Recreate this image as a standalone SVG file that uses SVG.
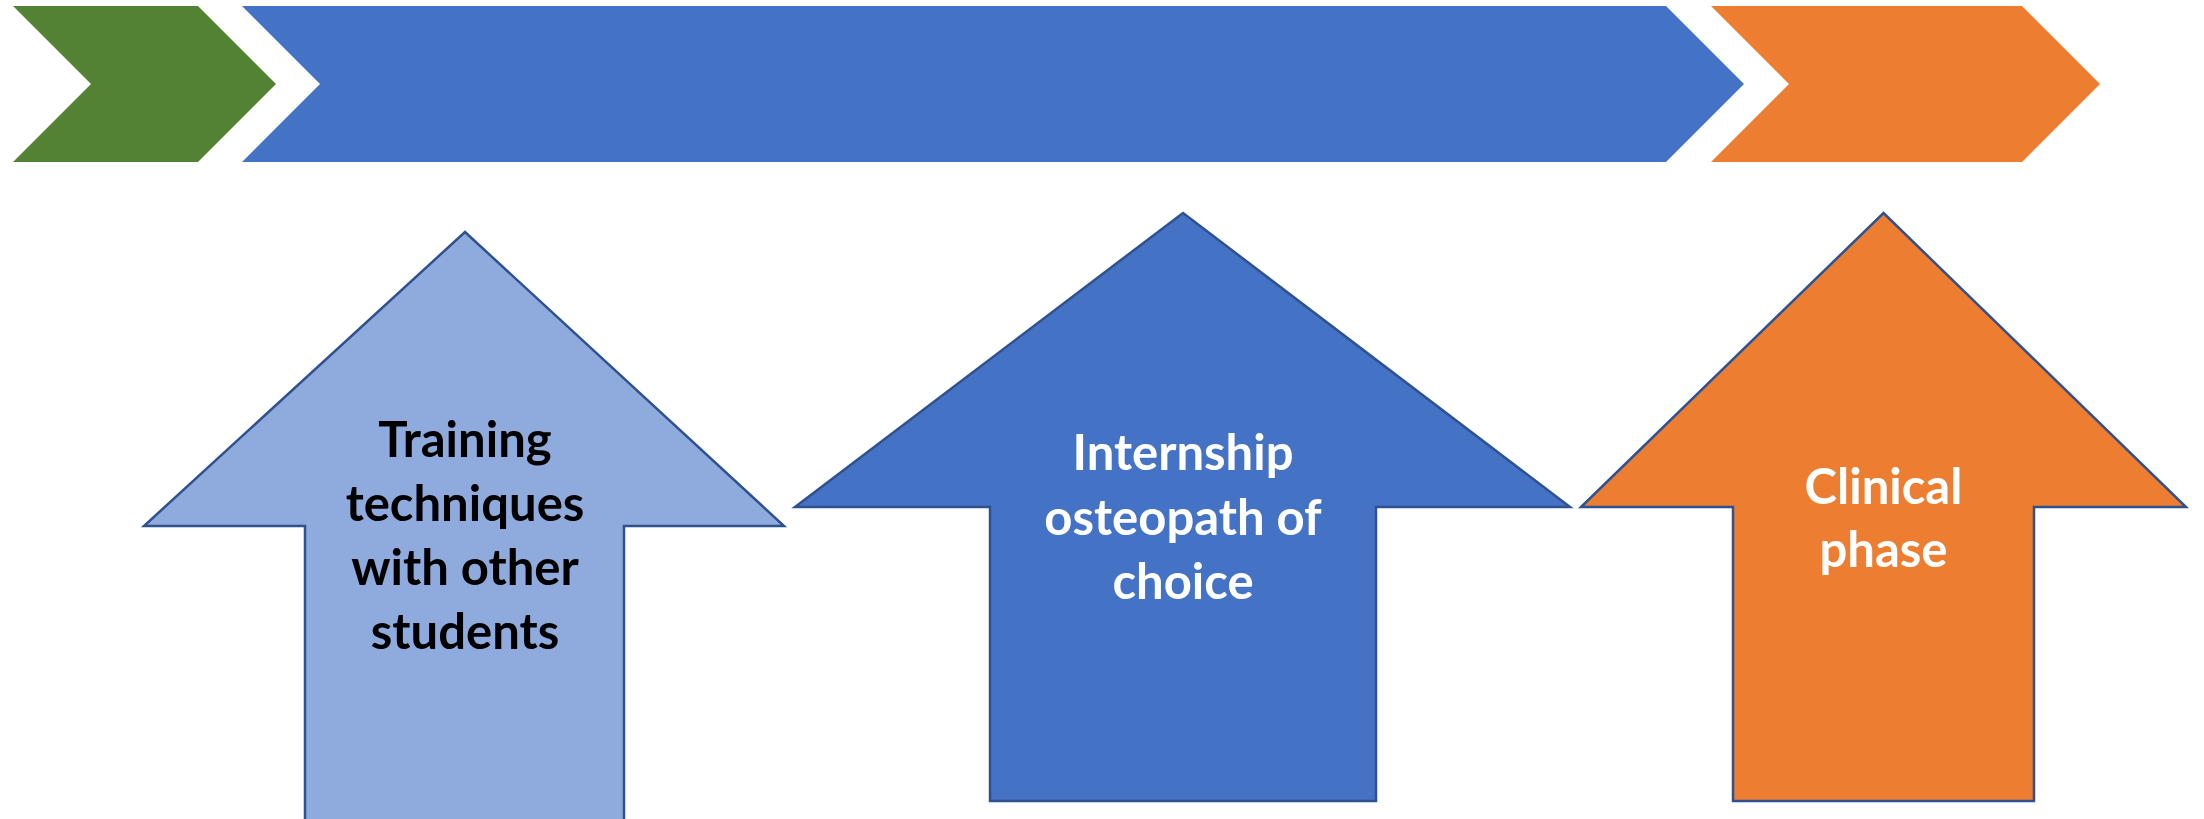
<svg xmlns="http://www.w3.org/2000/svg" width="2204" height="819" viewBox="0 0 2204 819">
<style>
.arrow{stroke:#2F528F;stroke-width:2.5;stroke-linejoin:miter}
.lbl{font-family:Lato,"Open Sans","Liberation Sans",sans-serif;font-weight:bold;font-size:49px;text-anchor:middle}
</style>
<rect width="2204" height="819" fill="#FFFFFF"/>
<g id="chevron-green"><polygon points="13,6 198,6 276,84 198,162 13,162 91,84" fill="#548235"/></g>
<g id="chevron-blue"><polygon points="242,6 1666,6 1744,84 1666,162 242,162 320,84" fill="#4472C4"/></g>
<g id="chevron-orange"><polygon points="1711,6 2022,6 2100,84 2022,162 1711,162 1789,84" fill="#ED7D31"/></g>
<g id="arrow-training">
<polygon class="arrow" points="465,232 784,526 624,526 624,830 305,830 305,526 144,526" fill="#8FAADC"/>
<text class="lbl" fill="#000000"><tspan x="465" y="457">Training</tspan><tspan x="465" y="521">techniques</tspan><tspan x="465" y="585">with other</tspan><tspan x="465" y="649">students</tspan></text>
</g>
<g id="arrow-internship">
<polygon class="arrow" points="1183,213 1570,507 1376,507 1376,801 990,801 990,507 795,507" fill="#4472C4"/>
<text class="lbl" fill="#FFFFFF"><tspan x="1183" y="470">Internship</tspan><tspan x="1183" y="535">osteopath of</tspan><tspan x="1183" y="599">choice</tspan></text>
</g>
<g id="arrow-clinical">
<polygon class="arrow" points="1883.5,213 2186,507 2034,507 2034,801 1733,801 1733,507 1581,507" fill="#ED7D31"/>
<text class="lbl" fill="#FFFFFF"><tspan x="1883.5" y="504">Clinical</tspan><tspan x="1883.5" y="567">phase</tspan></text>
</g>
<g id="connectors"></g>
</svg>
